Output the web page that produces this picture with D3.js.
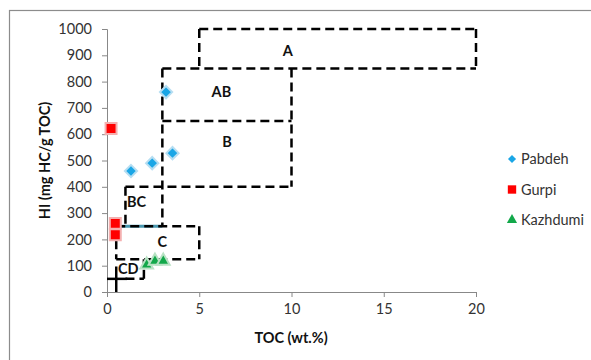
<!DOCTYPE html>
<meta charset="utf-8">
<script src="https://d3js.org/d3.v7.min.js"></script>
<style>
  body { margin: 0; background: #fff; }
  text { font-family: Lato, "Open Sans", sans-serif; }
</style>
<div id="chart"></div>
<script>
// data
var pabdehToc = [3.2, 1.3, 2.45, 3.55];
var pabdehHi  = [760, 460, 490, 528];
var gurpiToc  = [0.22, 0.45, 0.45];
var gurpiHi   = [622, 261, 218];
var kazhToc   = [2.15, 2.6, 3.05];
var kazhHi    = [103, 118, 118];

var xTicks = [0, 5, 10, 15, 20];
var yTicks = [0, 100, 200, 300, 400, 500, 600, 700, 800, 900, 1000];

// kerogen type field boundaries, [x1, y1, x2, y2] in TOC / HI units
var fieldLines = [
  [5, 1000, 20, 1000], [20, 1000, 20, 850], [5, 1000, 5, 850], [3, 850, 20, 850],
  [3, 850, 3, 250], [10, 850, 10, 400], [3, 650, 10, 650], [1, 400, 10, 400],
  [1, 400, 1, 250], [0.5, 250, 5, 250], [5, 250, 5, 125], [0.5, 125, 5, 125],
  [0.5, 250, 0.5, 125], [1, 50, 2, 50], [2, 50, 2, 125]
];
var crossLines = [[0, 50, 1.1, 50], [0.5, 0, 0.5, 97]];
var zoneLabelX = [9.8, 6.2, 6.5, 1.6, 3.0, 1.15];
var zoneLabelY = [915, 762, 570, 342, 190, 87];
var zoneLabelText = ["A", "AB", "B", "BC", "C", "CD"];

var W = 591, H = 360;
var margin = {top: 29, left: 107};
var width = 476 - margin.left, height = 292 - margin.top;

var svg = d3.select("#chart").append("svg")
  .attr("width", W).attr("height", H);

// outer chart frame
svg.append("rect")
  .attr("x", 9.5).attr("y", 10.5).attr("width", 620).attr("height", 400)
  .attr("fill", "none").attr("stroke", "#8c8c8c").attr("stroke-width", 1.2);

var g = svg.append("g").attr("transform", "translate(" + margin.left + "," + margin.top + ")");

var x = d3.scaleLinear().domain([0, 20]).range([0, width]);
var y = d3.scaleLinear().domain([0, 1000]).range([height, 0]);

var xAxis = g.append("g").attr("transform", "translate(0," + height + ")")
  .call(d3.axisBottom(x).tickValues(xTicks).tickFormat(d3.format("d")).tickSizeOuter(0).tickSize(5).tickPadding(7));
var yAxis = g.append("g")
  .call(d3.axisLeft(y).tickValues(yTicks).tickFormat(d3.format("d")).tickSizeOuter(0).tickSize(5).tickPadding(10));
[xAxis, yAxis].forEach(function(a) {
  a.selectAll("path, line").attr("stroke", "#888");
  a.selectAll("text").attr("fill", "#333").style("font-size", "14.5px").style("font-family", "Lato");
});

// teal line under BC/C boundary
g.append("line")
  .attr("x1", x(0.5)).attr("x2", x(3)).attr("y1", y(250)).attr("y2", y(250))
  .attr("stroke", "#4a98b0").attr("stroke-width", 3);

g.selectAll(".field").data(fieldLines).enter().append("line")
  .attr("x1", function(d) { return x(d[0]); }).attr("y1", function(d) { return y(d[1]); })
  .attr("x2", function(d) { return x(d[2]); }).attr("y2", function(d) { return y(d[3]); })
  .attr("stroke", "#000").attr("stroke-width", 2.5).attr("stroke-dasharray", "9,5");
g.selectAll(".cross").data(crossLines).enter().append("line")
  .attr("x1", function(d) { return x(d[0]); }).attr("y1", function(d) { return y(d[1]); })
  .attr("x2", function(d) { return x(d[2]); }).attr("y2", function(d) { return y(d[3]); })
  .attr("stroke", "#000").attr("stroke-width", 2.5);

g.selectAll(".zlab").data(zoneLabelText).enter().append("text")
  .attr("x", function(d, i) { return x(zoneLabelX[i]); })
  .attr("y", function(d, i) { return y(zoneLabelY[i]); })
  .attr("text-anchor", "middle").attr("dy", "0.35em")
  .style("font-size", "14.5px").style("font-weight", "bold").attr("fill", "#111")
  .text(function(d) { return d; });

// series
var series = [
  {name: "Pabdeh", xs: pabdehToc, ys: pabdehHi, sym: d3.symbolDiamond2, color: "#1aa6e6", glow: "#b6def2", size: 95, lsize: 42},
  {name: "Gurpi", xs: gurpiToc, ys: gurpiHi, sym: d3.symbolSquare, color: "#ff0000", glow: "#f4b0b0", size: 120, lsize: 70},
  {name: "Kazhdumi", xs: kazhToc, ys: kazhHi, sym: d3.symbolTriangle, color: "#12a84a", glow: "#b8e2c4", size: 70, lsize: 45}
];

series.forEach(function(s) {
  var sym = d3.symbol().type(s.sym).size(s.size);
  g.selectAll(null).data(s.xs).enter().append("path")
    .attr("d", sym)
    .attr("transform", function(d, i) { return "translate(" + x(d) + "," + y(s.ys[i]) + ")"; })
    .attr("fill", s.color).attr("stroke", s.glow).attr("stroke-width", 2);
});

// legend
var leg = svg.append("g").attr("transform", "translate(512,159)");
series.forEach(function(s, i) {
  var row = leg.append("g").attr("transform", "translate(0," + (i * 30.5) + ")");
  row.append("path").attr("d", d3.symbol().type(s.sym).size(s.lsize))
    .attr("fill", s.color);
  row.append("text").attr("x", 9).attr("dy", "0.35em")
    .style("font-size", "14.5px").attr("fill", "#333").text(s.name);
});

// axis titles
svg.append("text")
  .attr("x", 291).attr("y", 338).attr("dy", "0.35em")
  .attr("text-anchor", "middle")
  .style("font-size", "14.5px").style("font-weight", "bold").attr("fill", "#111")
  .text("TOC (wt.%)");
svg.append("text")
  .attr("transform", "translate(45," + (margin.top + height / 2) + ") rotate(-90)")
  .attr("text-anchor", "middle").attr("dy", "0.35em")
  .style("font-size", "14.5px").style("font-weight", "bold").attr("fill", "#111")
  .text("HI (mg HC/g TOC)");
</script>
